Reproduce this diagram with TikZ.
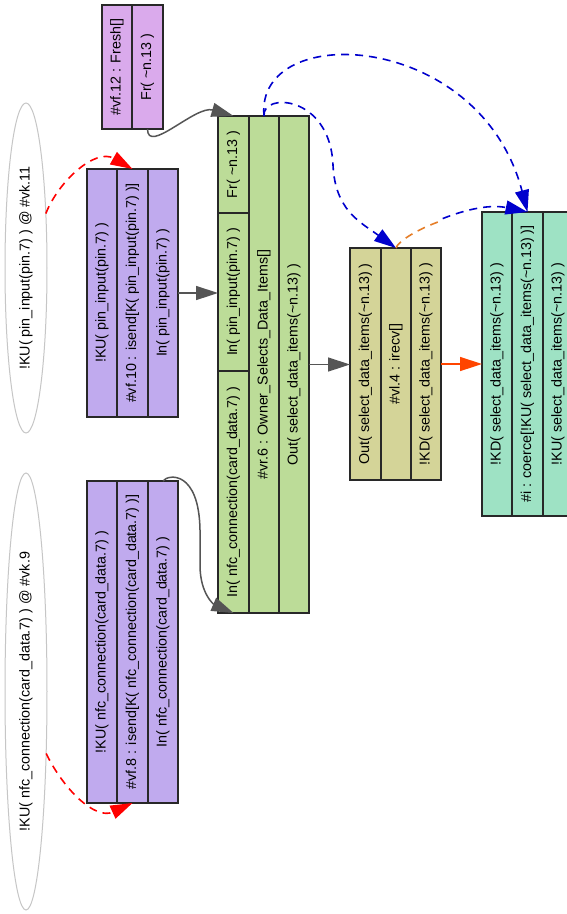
\documentclass[tikz,border=0pt]{standalone}
\usepackage{fontspec}
\setmainfont{Liberation Sans}
\usetikzlibrary{arrows.meta,shapes.geometric}
\definecolor{cFresh}{RGB}{218,170,236}
\definecolor{cPurple}{RGB}{192,170,238}
\definecolor{cGreen}{RGB}{188,220,152}
\definecolor{cYellow}{RGB}{212,212,152}
\definecolor{cTeal}{RGB}{158,226,196}
\definecolor{cLine}{RGB}{40,40,40}
\definecolor{cEdge}{RGB}{85,85,85}
\definecolor{cBlue}{RGB}{0,0,205}
\definecolor{cRed}{RGB}{255,0,0}
\definecolor{cOrRed}{RGB}{255,69,0}
\definecolor{cOrange}{RGB}{230,126,40}
\newcommand{\rtxt}[1]{\rotatebox{90}{#1}}
\newcommand{\tld}{\textasciitilde}
\begin{document}
\begin{tikzpicture}[x=1pt,y=-1pt,
  cell/.style={draw=cLine, line width=1.5pt, rectangle, inner sep=0pt, outer sep=0pt,
    font=\fontsize{14.3}{16}\selectfont},
  kn/.style={draw=gray!45, line width=1pt, ellipse, inner sep=0pt, outer sep=0pt,
    fill=white, font=\fontsize{14.3}{16}\selectfont},
  tipA/.style={-{Triangle[length=22pt,width=14pt]}},
  gedge/.style={draw=cEdge, line width=1.5pt, tipA},
  redge/.style={draw=cRed, line width=1.6pt, dash pattern=on 8pt off 6pt, tipA},
  bedge/.style={draw=cBlue, line width=1.6pt, dash pattern=on 8pt off 6pt, tipA},
  oedge/.style={draw=cOrange, line width=1.6pt, dash pattern=on 8pt off 6pt},
  kedge/.style={draw=cOrRed, line width=1.5pt, tipA}
]
\useasboundingbox (0,0) rectangle (567,914);
\fill[white] (0,0) rectangle (567,914);
\clip (0,0) rectangle (567,914);

% ellipses
\node[kn, minimum width=42pt, minimum height=330pt] (e1) at (26,268)
  {\rtxt{!KU( pin\_input(pin.7) ) @ \#vk.11}};
\node[kn, minimum width=42pt, minimum height=437pt] (e2) at (26,691.5)
  {\rtxt{!KU( nfc\_connection(card\_data.7) ) @ \#vk.9}};

% Fresh
\node[cell, fill=cFresh, minimum width=30pt, minimum height=124pt] (fA) at (117,67) {\rtxt{\#vf.12 : Fresh[]}};
\node[cell, fill=cFresh, minimum width=31pt, minimum height=124pt] (fB) at (147.5,67) {\rtxt{Fr( \tld n.13 )}};

% pin isend
\node[cell, fill=cPurple, minimum width=30pt, minimum height=248pt] (pA) at (102,293) {\rtxt{!KU( pin\_input(pin.7) )}};
\node[cell, fill=cPurple, minimum width=31pt, minimum height=248pt] (pB) at (132.5,293) {\rtxt{\#vf.10 : isend[K( pin\_input(pin.7) )]}};
\node[cell, fill=cPurple, minimum width=30pt, minimum height=248pt] (pC) at (163,293) {\rtxt{In( pin\_input(pin.7) )}};

% nfc isend
\node[cell, fill=cPurple, minimum width=30pt, minimum height=322pt] (nA) at (102,642) {\rtxt{!KU( nfc\_connection(card\_data.7) )}};
\node[cell, fill=cPurple, minimum width=31pt, minimum height=322pt] (nB) at (132.5,642) {\rtxt{\#vf.8 : isend[K( nfc\_connection(card\_data.7) )]}};
\node[cell, fill=cPurple, minimum width=30pt, minimum height=322pt] (nC) at (163,642) {\rtxt{In( nfc\_connection(card\_data.7) )}};

% green rule
\node[cell, fill=cGreen, minimum width=31pt, minimum height=97pt] (gFr) at (233.5,164.5) {\rtxt{Fr( \tld n.13 )}};
\node[cell, fill=cGreen, minimum width=31pt, minimum height=158pt] (gPin) at (233.5,292) {\rtxt{In( pin\_input(pin.7) )}};
\node[cell, fill=cGreen, minimum width=31pt, minimum height=242pt] (gNfc) at (233.5,492) {\rtxt{In( nfc\_connection(card\_data.7) )}};
\node[cell, fill=cGreen, minimum width=30pt, minimum height=497pt] (gB) at (264,364.5) {\rtxt{\#vr.6 : Owner\_Selects\_Data\_Items[]}};
\node[cell, fill=cGreen, minimum width=30pt, minimum height=497pt] (gC) at (294,364.5) {\rtxt{Out( select\_data\_items(\tld n.13) )}};

% yellow irecv
\node[cell, fill=cYellow, minimum width=31pt, minimum height=232pt] (yA) at (365.5,364) {\rtxt{Out( select\_data\_items(\tld n.13) )}};
\node[cell, fill=cYellow, minimum width=30pt, minimum height=232pt] (yB) at (396,364) {\rtxt{\#vl.4 : irecv[]}};
\node[cell, fill=cYellow, minimum width=30pt, minimum height=232pt] (yC) at (426,364) {\rtxt{!KD( select\_data\_items(\tld n.13) )}};

% teal coerce
\node[cell, fill=cTeal, minimum width=30pt, minimum height=304pt] (tA) at (497,364) {\rtxt{!KD( select\_data\_items(\tld n.13) )}};
\node[cell, fill=cTeal, minimum width=31pt, minimum height=304pt] (tB) at (527.5,364) {\rtxt{\#i : coerce[!KU( select\_data\_items(\tld n.13) )]}};
\node[cell, fill=cTeal, minimum width=30pt, minimum height=304pt] (tC) at (558,364) {\rtxt{!KU( select\_data\_items(\tld n.13) )}};

% solid edges
\draw[gedge] (fB.south) .. controls +(0,26) and +(-38,-11) .. (gFr.north);
\draw[gedge] (pC.east) -- (pC.east -| gPin.west);
\draw[gedge] (nC.north) .. controls +(5,-7) and (199,470) .. (200,530)
  -- (200,565) .. controls (200,595) and (215,605) .. (gNfc.south);
\draw[gedge] (gC.east) -- (gC.east -| yA.west);
\draw[kedge] (yC.east) -- (yC.east -| tA.west);

% red dashed
\draw[redge] (e1.70) .. controls +(13,-33) and +(-37,-21) .. (pB.north);
\draw[redge] (e2.-72) .. controls +(18,37) and +(-37,17) .. (nB.south);

% blue dashed
\draw[bedge] (gB.north) .. controls (262,92) and (330,95) .. (333,165)
  .. controls (335,210) and (360,222) .. (yB.north);
\draw[bedge] (gB.north) .. controls (255,20) and (480,30) .. (tB.north);
% irecv -> coerce: orange first part, blue last part
\begin{scope}
  \clip (442,150) rectangle (567,260);
  \draw[bedge] (yB.north) .. controls (400,235) and (470,200) .. (tB.north);
\end{scope}
\begin{scope}
  \clip (380,150) rectangle (442,260);
  \draw[oedge] (yB.north) .. controls (400,235) and (470,200) .. (tB.north);
\end{scope}
\end{tikzpicture}
\end{document}
